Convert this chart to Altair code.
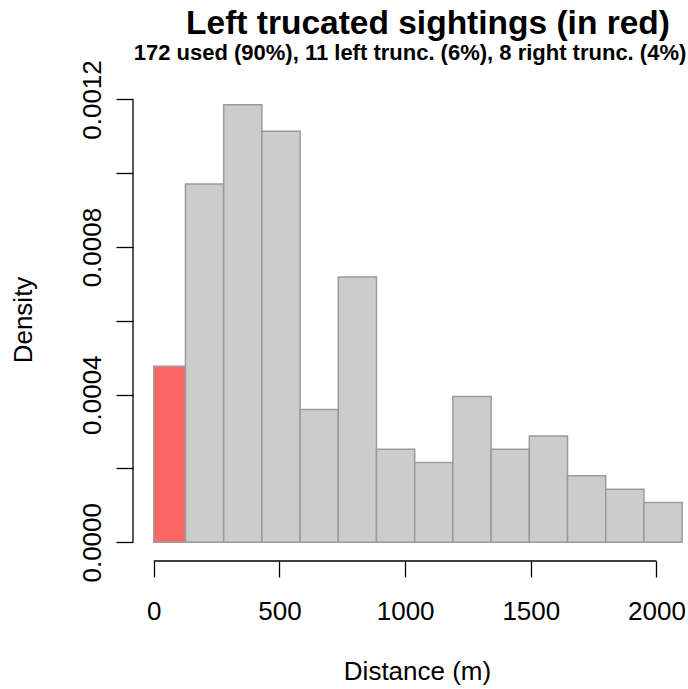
import altair as alt
import pandas as pd

# ---- data ----
bin_start = [0, 126, 278, 430, 582, 734, 886, 1038, 1190, 1342, 1494, 1646, 1798, 1950]
bin_end = [126, 278, 430, 582, 734, 886, 1038, 1190, 1342, 1494, 1646, 1798, 1950, 2102]
density = [0.000477, 0.000971, 0.001186, 0.001114, 0.000360, 0.000719, 0.000252,
           0.000216, 0.000395, 0.000252, 0.000288, 0.000180, 0.000144, 0.000108]
status = ["left truncated"] + ["used"] * 13

x_ticks = [0, 500, 1000, 1500, 2000]
y_ticks = [0.0, 0.0002, 0.0004, 0.0006, 0.0008, 0.0010, 0.0012]

title_text = "Left trucated sightings (in red)"
subtitle_text = "172 used (90%), 11 left trunc. (6%), 8 right trunc. (4%)"
x_title = "Distance (m)"
y_title = "Density"

FONT = "Liberation Sans"
W, H = 555, 479

df = pd.DataFrame({"start": bin_start, "end": bin_end, "density": density,
                   "status": status})

xscale = alt.Scale(domain=[-82.8, 2125.4], nice=False, zero=False)
yscale = alt.Scale(domain=[-0.0000507, 0.0012474], nice=False, zero=False)

x_axis = alt.Axis(values=x_ticks, domain=False, grid=False, title=None,
                  tickColor="black", tickWidth=1.3, tickSize=16,
                  labelFontSize=26, labelColor="black", labelFont=FONT,
                  labelBaseline="top", labelPadding=21,
                  labelFlush=False, labelOverlap=False, format="d")
y_axis = alt.Axis(values=y_ticks, domain=False, grid=False, title=None,
                  tickColor="black", tickWidth=1.3, tickSize=17,
                  labelFontSize=26, labelColor="black", labelFont=FONT,
                  labelAngle=270, labelAlign="center",
                  labelBaseline="alphabetic", labelPadding=16,
                  labelFlush=False, labelOverlap=False,
                  labelExpr="round(datum.value*10000) % 4 == 0 ? format(datum.value, '.4f') : ''")

bars = alt.Chart(df).mark_rect(stroke="#9B9B9B", strokeWidth=1.5).encode(
    x=alt.X("start:Q", scale=xscale, axis=x_axis),
    x2="end:Q",
    y=alt.Y("density:Q", scale=yscale, axis=y_axis),
    y2=alt.datum(0),
    color=alt.Color("status:N",
                    scale=alt.Scale(domain=["left truncated", "used"],
                                    range=["#FF6666", "#CCCCCC"]),
                    legend=None),
)

xline = alt.Chart(pd.DataFrame({"a": [x_ticks[0]], "b": [x_ticks[-1]]})).mark_rule(
    color="black", strokeWidth=1.3).encode(
    x=alt.X("a:Q", scale=xscale, axis=x_axis), x2="b:Q", y=alt.value(H))

yline = alt.Chart(pd.DataFrame({"c": [y_ticks[0]], "d": [y_ticks[-1]]})).mark_rule(
    color="black", strokeWidth=1.3).encode(
    y=alt.Y("c:Q", scale=yscale, axis=y_axis), y2="d:Q", x=alt.value(0))


def label(text, x, y, size, weight="normal", angle=0):
    return alt.Chart(pd.DataFrame({"t": [text]})).mark_text(
        fontSize=size, fontWeight=weight, font=FONT, color="black",
        align="center", baseline="alphabetic", angle=angle).encode(
        text="t:N", x=alt.value(x), y=alt.value(y))


title = label(title_text, 295, -48, 33.5, "bold")
subtitle = label(subtitle_text, 277, -22, 22, "bold")
xt = label(x_title, 284.5, 598, 26)
yt = label(y_title, -101, 238, 26, angle=270)

chart = alt.layer(bars, xline, yline, title, subtitle, xt, yt).properties(
    width=W, height=H,
    padding={"left": 133, "top": 82, "right": 0, "bottom": 128},
    autosize=alt.AutoSizeParams(type="none"),
).configure(font=FONT, background="white").configure_view(stroke=None)

chart.save("out.html", embed_options={"renderer": "svg", "actions": False})
